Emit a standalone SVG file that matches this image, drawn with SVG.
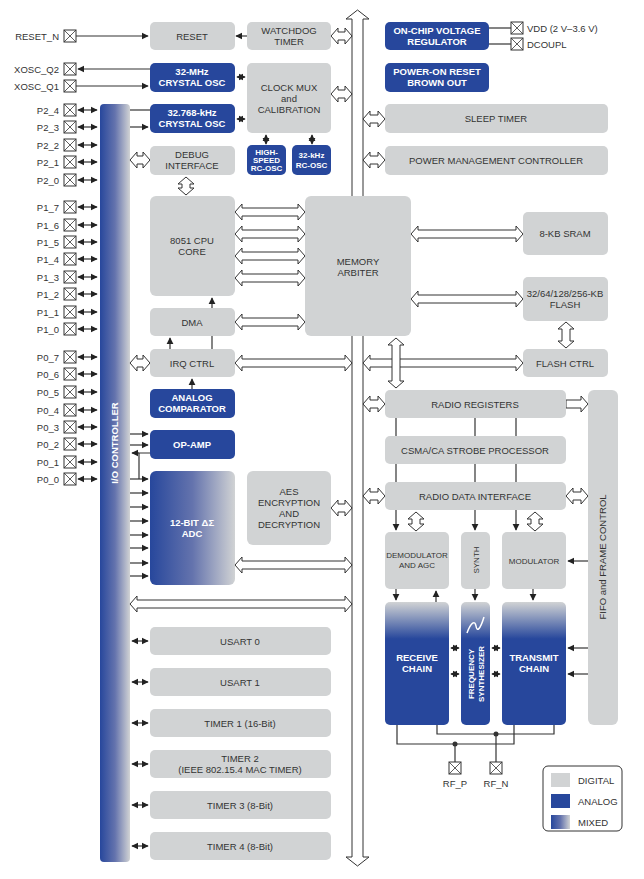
<svg xmlns="http://www.w3.org/2000/svg" width="644" height="879" viewBox="0 0 644 879">
<style>
text{font-family:"Liberation Sans",Arial,sans-serif;font-size:9.5px;fill:#333;text-anchor:middle}
.g{fill:#d1d3d4}
.d{fill:#27479c}
.w{fill:#fff;font-weight:bold}
.s{font-size:8px}
.pin{font-size:9.5px;text-anchor:end}
.h{fill:#fff;stroke:#333;stroke-width:1}
.ln{stroke:#333;stroke-width:1.2;fill:none}
</style>
<defs>
<marker id="a" viewBox="0 0 10 10" refX="9" refY="5" markerWidth="6" markerHeight="6" orient="auto-start-reverse"><path d="M0,0L10,5L0,10z" fill="#222"/></marker>
<linearGradient id="io" x1="0" y1="0" x2="1" y2="0"><stop offset="0" stop-color="#27479c"/><stop offset="0.5" stop-color="#6473ad"/><stop offset="1" stop-color="#d1d3d4"/></linearGradient>
<linearGradient id="top" x1="0" y1="0" x2="0" y2="1"><stop offset="0" stop-color="#d1d3d4"/><stop offset="0.3" stop-color="#27479c"/><stop offset="1" stop-color="#27479c"/></linearGradient>
<g id="x"><rect x="0" y="-6" width="12" height="12" fill="#fff" stroke="#333"/><path d="M0,-6L12,6M12,-6L0,6" stroke="#333" stroke-width="0.8"/></g>
</defs>

<!-- IO controller -->
<g id="io_ctrl"><rect x="100" y="104" width="30" height="758" rx="4" fill="url(#io)"/>
<text transform="translate(118,443) rotate(-90)" class="w" style="fill:#fff">I/O CONTROLLER</text></g>

<!-- bus -->
<g id="bus"><polygon class="h" points="357.5,10 369,19 363,19 363,857 369,857 357.5,866 346,857 352,857 352,19 346,19"/></g>

<!-- connectors -->
<g id="connectors">
<line class="ln" x1="76" y1="36" x2="148" y2="36" marker-end="url(#a)"/>
<line class="ln" x1="247" y1="36" x2="236" y2="36" marker-end="url(#a)"/>
<line class="ln" x1="150" y1="69" x2="78" y2="69" marker-end="url(#a)"/>
<line class="ln" x1="76" y1="86" x2="148" y2="86" marker-end="url(#a)"/>
<line class="ln" x1="130" y1="110" x2="150" y2="110"/>
<line class="ln" x1="130" y1="127" x2="148" y2="127" marker-end="url(#a)"/>
<line class="ln" x1="237" y1="77" x2="245" y2="77" marker-start="url(#a)" marker-end="url(#a)"/>
<line class="ln" x1="237" y1="119" x2="245" y2="119" marker-start="url(#a)" marker-end="url(#a)"/>
<line class="ln" x1="266" y1="135" x2="266" y2="144" marker-start="url(#a)" marker-end="url(#a)"/>
<line class="ln" x1="312" y1="135" x2="312" y2="144" marker-start="url(#a)" marker-end="url(#a)"/>
<g id="pinarrows">
<line class="ln" x1="78" y1="110" x2="97" y2="110" marker-start="url(#a)" marker-end="url(#a)"/>
<line class="ln" x1="78" y1="127" x2="97" y2="127" marker-start="url(#a)" marker-end="url(#a)"/>
<line class="ln" x1="78" y1="145" x2="97" y2="145" marker-start="url(#a)" marker-end="url(#a)"/>
<line class="ln" x1="78" y1="162" x2="97" y2="162" marker-start="url(#a)" marker-end="url(#a)"/>
<line class="ln" x1="78" y1="180" x2="97" y2="180" marker-start="url(#a)" marker-end="url(#a)"/>
<line class="ln" x1="78" y1="207" x2="97" y2="207" marker-start="url(#a)" marker-end="url(#a)"/>
<line class="ln" x1="78" y1="225" x2="97" y2="225" marker-start="url(#a)" marker-end="url(#a)"/>
<line class="ln" x1="78" y1="242" x2="97" y2="242" marker-start="url(#a)" marker-end="url(#a)"/>
<line class="ln" x1="78" y1="259" x2="97" y2="259" marker-start="url(#a)" marker-end="url(#a)"/>
<line class="ln" x1="78" y1="277" x2="97" y2="277" marker-start="url(#a)" marker-end="url(#a)"/>
<line class="ln" x1="78" y1="294" x2="97" y2="294" marker-start="url(#a)" marker-end="url(#a)"/>
<line class="ln" x1="78" y1="312" x2="97" y2="312" marker-start="url(#a)" marker-end="url(#a)"/>
<line class="ln" x1="78" y1="329" x2="97" y2="329" marker-start="url(#a)" marker-end="url(#a)"/>
<line class="ln" x1="78" y1="357" x2="97" y2="357" marker-start="url(#a)" marker-end="url(#a)"/>
<line class="ln" x1="78" y1="374" x2="97" y2="374" marker-start="url(#a)" marker-end="url(#a)"/>
<line class="ln" x1="78" y1="392" x2="97" y2="392" marker-start="url(#a)" marker-end="url(#a)"/>
<line class="ln" x1="78" y1="410" x2="97" y2="410" marker-start="url(#a)" marker-end="url(#a)"/>
<line class="ln" x1="78" y1="427" x2="97" y2="427" marker-start="url(#a)" marker-end="url(#a)"/>
<line class="ln" x1="78" y1="444" x2="97" y2="444" marker-start="url(#a)" marker-end="url(#a)"/>
<line class="ln" x1="78" y1="462" x2="97" y2="462" marker-start="url(#a)" marker-end="url(#a)"/>
<line class="ln" x1="78" y1="479" x2="97" y2="479" marker-start="url(#a)" marker-end="url(#a)"/>
</g>
<polygon class="h" points="331,36 338,28 338,32 345,32 345,28 352,36 345,44 345,40 338,40 338,44"/>
<polygon class="h" points="331,94 338,86 338,90 345,90 345,86 352,94 345,102 345,98 338,98 338,102"/>
<polygon class="h" points="130,160 137,152 137,156 143,156 143,152 150,160 143,168 143,164 137,164 137,168"/>
<polygon class="h" points="186,177 194,184 190,184 190,188 194,188 186,195 178,188 182,188 182,184 178,184"/>
<polygon class="h" points="235,212 242,204 242,208 298,208 298,204 305,212 298,220 298,216 242,216 242,220"/>
<polygon class="h" points="235,234 242,226 242,230 298,230 298,226 305,234 298,242 298,238 242,238 242,242"/>
<polygon class="h" points="235,256 242,248 242,252 298,252 298,248 305,256 298,264 298,260 242,260 242,264"/>
<polygon class="h" points="235,278 242,270 242,274 298,274 298,270 305,278 298,286 298,282 242,282 242,286"/>
<polygon class="h" points="235,322 242,314 242,318 298,318 298,314 305,322 298,330 298,326 242,326 242,330"/>
<polygon class="h" points="235,363 242,355 242,359 345,359 345,355 352,363 345,371 345,367 242,367 242,371"/>
<polygon class="h" points="130,363 137,355 137,359 143,359 143,355 150,363 143,371 143,367 137,367 137,371"/>
<polygon class="h" points="331,508 338,500 338,504 345,504 345,500 352,508 345,516 345,512 338,512 338,516"/>
<polygon class="h" points="235,565 242,557 242,561 345,561 345,557 352,565 345,573 345,569 242,569 242,573"/>
<polygon class="h" points="130,604 137,596 137,600 345,600 345,596 352,604 345,612 345,608 137,608 137,612"/>
<polygon class="h" points="363,119 370,111 370,115 378,115 378,111 385,119 378,127 378,123 370,123 370,127"/>
<polygon class="h" points="363,160 370,152 370,156 378,156 378,152 385,160 378,168 378,164 370,164 370,168"/>
<polygon class="h" points="411,234 418,226 418,230 516,230 516,226 523,234 516,242 516,238 418,238 418,242"/>
<polygon class="h" points="411,299 418,291 418,295 516,295 516,291 523,299 516,307 516,303 418,303 418,307"/>
<polygon class="h" points="566,322 574,329 570,329 570,341 574,341 566,348 558,341 562,341 562,329 558,329"/>
<polygon class="h" points="363,363 370,355 370,359 516,359 516,355 523,363 516,371 516,367 370,367 370,371"/>
<polygon class="h" points="396,338 404,345 400,345 400,381 404,381 396,388 388,381 392,381 392,345 388,345"/>
<polygon class="h" points="363,404 370,396 370,400 378,400 378,396 385,404 378,412 378,408 370,408 370,412"/>
<polygon class="h" points="566,400 581,400 581,396 588,404 581,412 581,408 566,408"/>
<polygon class="h" points="363,496 370,488 370,492 378,492 378,488 385,496 378,504 378,500 370,500 370,504"/>
<polygon class="h" points="566,496 573,488 573,492 581,492 581,488 588,496 581,504 581,500 573,500 573,504"/>
<polygon class="h" points="416,512 424,519 420,519 420,524 424,524 416,531 408,524 412,524 412,519 408,519"/>
<polygon class="h" points="535,512 543,519 539,519 539,524 543,524 535,531 527,524 531,524 531,519 527,519"/>
<line class="ln" x1="212" y1="349" x2="212" y2="298" marker-end="url(#a)"/>
<line class="ln" x1="170" y1="349" x2="170" y2="338" marker-end="url(#a)"/>
<line class="ln" x1="192" y1="389" x2="192" y2="379" marker-end="url(#a)"/>
<line class="ln" x1="130" y1="434" x2="148" y2="434" marker-end="url(#a)"/>
<line class="ln" x1="130" y1="445" x2="148" y2="445" marker-end="url(#a)"/>
<polyline class="ln" points="150,453 139,453 139,479"/>
<line class="ln" x1="139" y1="453" x2="132" y2="453" marker-end="url(#a)"/>
<line class="ln" x1="130" y1="479" x2="148" y2="479" marker-end="url(#a)"/>
<line class="ln" x1="130" y1="493" x2="148" y2="493" marker-end="url(#a)"/>
<line class="ln" x1="130" y1="507" x2="148" y2="507" marker-end="url(#a)"/>
<line class="ln" x1="130" y1="521" x2="148" y2="521" marker-end="url(#a)"/>
<line class="ln" x1="130" y1="535" x2="148" y2="535" marker-end="url(#a)"/>
<line class="ln" x1="130" y1="548" x2="148" y2="548" marker-end="url(#a)"/>
<line class="ln" x1="130" y1="563" x2="148" y2="563" marker-end="url(#a)"/>
<line class="ln" x1="130" y1="576" x2="148" y2="576" marker-end="url(#a)"/>
<line class="ln" x1="132" y1="641" x2="148" y2="641" marker-start="url(#a)" marker-end="url(#a)"/>
<line class="ln" x1="132" y1="682" x2="148" y2="682" marker-start="url(#a)" marker-end="url(#a)"/>
<line class="ln" x1="132" y1="723" x2="148" y2="723" marker-start="url(#a)" marker-end="url(#a)"/>
<line class="ln" x1="132" y1="764" x2="148" y2="764" marker-start="url(#a)" marker-end="url(#a)"/>
<line class="ln" x1="132" y1="805" x2="148" y2="805" marker-start="url(#a)" marker-end="url(#a)"/>
<line class="ln" x1="132" y1="846" x2="148" y2="846" marker-start="url(#a)" marker-end="url(#a)"/>
<line class="ln" x1="489" y1="28" x2="511" y2="28"/>
<line class="ln" x1="489" y1="44" x2="511" y2="44"/>
<line class="ln" x1="396" y1="418" x2="396" y2="436"/>
<line class="ln" x1="475" y1="418" x2="475" y2="436"/>
<line class="ln" x1="516" y1="418" x2="516" y2="436"/>
<line class="ln" x1="396" y1="464" x2="396" y2="482"/>
<line class="ln" x1="475" y1="464" x2="475" y2="482"/>
<line class="ln" x1="516" y1="464" x2="516" y2="482"/>
<line class="ln" x1="396" y1="510" x2="396" y2="530" marker-end="url(#a)"/>
<line class="ln" x1="475" y1="510" x2="475" y2="530" marker-end="url(#a)"/>
<line class="ln" x1="516" y1="510" x2="516" y2="530" marker-end="url(#a)"/>
<line class="ln" x1="396" y1="589" x2="396" y2="600" marker-end="url(#a)"/>
<line class="ln" x1="436" y1="602" x2="436" y2="591" marker-end="url(#a)"/>
<line class="ln" x1="475" y1="589" x2="475" y2="600" marker-end="url(#a)"/>
<line class="ln" x1="533" y1="589" x2="533" y2="600" marker-end="url(#a)"/>
<line class="ln" x1="588" y1="561" x2="568" y2="561" marker-end="url(#a)"/>
<line class="ln" x1="451" y1="648" x2="459" y2="648" marker-start="url(#a)" marker-end="url(#a)"/>
<line class="ln" x1="451" y1="674" x2="459" y2="674" marker-start="url(#a)" marker-end="url(#a)"/>
<line class="ln" x1="492" y1="648" x2="500" y2="648" marker-start="url(#a)" marker-end="url(#a)"/>
<line class="ln" x1="492" y1="674" x2="500" y2="674" marker-start="url(#a)" marker-end="url(#a)"/>
<line class="ln" x1="588" y1="648" x2="568" y2="648" marker-end="url(#a)"/>
<line class="ln" x1="588" y1="674" x2="568" y2="674" marker-end="url(#a)"/>
<polyline class="ln" points="397,725 397,744 514,744 514,725"/>
<polyline class="ln" points="437,725 437,734 554,734 554,725"/>
<line class="ln" x1="455" y1="744" x2="455" y2="762"/>
<line class="ln" x1="496" y1="734" x2="496" y2="762"/>
<circle cx="455" cy="744" r="2.5" fill="#333"/>
<circle cx="496" cy="734" r="2.5" fill="#333"/>
</g>

<!-- pins -->
<g id="pins">
<use href="#x" x="64" y="36"/><text class="pin" x="59" y="40">RESET_N</text>
<use href="#x" x="64" y="69"/><text class="pin" x="59" y="73">XOSC_Q2</text>
<use href="#x" x="64" y="86"/><text class="pin" x="59" y="90">XOSC_Q1</text>
<use href="#x" x="64" y="110"/><text class="pin" x="59" y="114">P2_4</text>
<use href="#x" x="64" y="127"/><text class="pin" x="59" y="131">P2_3</text>
<use href="#x" x="64" y="145"/><text class="pin" x="59" y="149">P2_2</text>
<use href="#x" x="64" y="162"/><text class="pin" x="59" y="166">P2_1</text>
<use href="#x" x="64" y="180"/><text class="pin" x="59" y="184">P2_0</text>
<use href="#x" x="64" y="207"/><text class="pin" x="59" y="211">P1_7</text>
<use href="#x" x="64" y="225"/><text class="pin" x="59" y="229">P1_6</text>
<use href="#x" x="64" y="242"/><text class="pin" x="59" y="246">P1_5</text>
<use href="#x" x="64" y="259"/><text class="pin" x="59" y="263">P1_4</text>
<use href="#x" x="64" y="277"/><text class="pin" x="59" y="281">P1_3</text>
<use href="#x" x="64" y="294"/><text class="pin" x="59" y="298">P1_2</text>
<use href="#x" x="64" y="312"/><text class="pin" x="59" y="316">P1_1</text>
<use href="#x" x="64" y="329"/><text class="pin" x="59" y="333">P1_0</text>
<use href="#x" x="64" y="357"/><text class="pin" x="59" y="361">P0_7</text>
<use href="#x" x="64" y="374"/><text class="pin" x="59" y="378">P0_6</text>
<use href="#x" x="64" y="392"/><text class="pin" x="59" y="396">P0_5</text>
<use href="#x" x="64" y="410"/><text class="pin" x="59" y="414">P0_4</text>
<use href="#x" x="64" y="427"/><text class="pin" x="59" y="431">P0_3</text>
<use href="#x" x="64" y="444"/><text class="pin" x="59" y="448">P0_2</text>
<use href="#x" x="64" y="462"/><text class="pin" x="59" y="466">P0_1</text>
<use href="#x" x="64" y="479"/><text class="pin" x="59" y="483">P0_0</text>
<use href="#x" x="511" y="28"/><text x="527" y="32" style="text-anchor:start">VDD (2 V–3.6 V)</text>
<use href="#x" x="511" y="44"/><text x="527" y="48" style="text-anchor:start">DCOUPL</text>
<use href="#x" x="449" y="768"/><text x="455" y="787">RF_P</text>
<use href="#x" x="490" y="768"/><text x="496" y="787">RF_N</text>
</g>

<!-- nodes -->
<g id="reset"><rect class="g" x="150" y="22" width="85" height="28" rx="5"/><text x="192" y="40">RESET</text></g>
<g id="watchdog"><rect class="g" x="247" y="22" width="84" height="28" rx="5"/><text x="289" y="34">WATCHDOG</text><text x="289" y="45">TIMER</text></g>
<g id="xosc32m"><rect class="d" x="150" y="63" width="85" height="29" rx="5"/><text class="w" x="192" y="75">32-MHz</text><text class="w" x="192" y="86">CRYSTAL OSC</text></g>
<g id="clockmux"><rect class="g" x="247" y="63" width="84" height="70" rx="5"/><text x="289" y="91">CLOCK MUX</text><text x="289" y="102">and</text><text x="289" y="113">CALIBRATION</text></g>
<g id="xosc32k"><rect class="d" x="150" y="104" width="85" height="29" rx="5"/><text class="w" x="192" y="116">32.768-kHz</text><text class="w" x="192" y="127">CRYSTAL OSC</text></g>
<g id="debug"><rect class="g" x="150" y="146" width="85" height="29" rx="5"/><text x="192" y="158">DEBUG</text><text x="192" y="169">INTERFACE</text></g>
<g id="hsrc"><rect class="d" x="247" y="145" width="39" height="30" rx="5"/><text class="w s" x="266.5" y="155">HIGH-</text><text class="w s" x="266.5" y="163">SPEED</text><text class="w s" x="266.5" y="171">RC-OSC</text></g>
<g id="rc32k"><rect class="d" x="292" y="145" width="39" height="30" rx="5"/><text class="w s" x="311.5" y="158">32-kHz</text><text class="w s" x="311.5" y="168">RC-OSC</text></g>
<g id="cpu"><rect class="g" x="150" y="196" width="85" height="100" rx="6"/><text x="192" y="244">8051 CPU</text><text x="192" y="255">CORE</text></g>
<g id="dma"><rect class="g" x="150" y="308" width="85" height="28" rx="5"/><text x="192" y="326">DMA</text></g>
<g id="irq"><rect class="g" x="150" y="349" width="85" height="28" rx="5"/><text x="192" y="367">IRQ CTRL</text></g>
<g id="arbiter"><rect class="g" x="305" y="196" width="106" height="140" rx="6"/><text x="358" y="265">MEMORY</text><text x="358" y="276">ARBITER</text></g>
<g id="comparator"><rect class="d" x="150" y="389" width="85" height="29" rx="5"/><text class="w" x="192" y="401">ANALOG</text><text class="w" x="192" y="412">COMPARATOR</text></g>
<g id="opamp"><rect class="d" x="150" y="430" width="85" height="29" rx="5"/><text class="w" x="192" y="448">OP-AMP</text></g>
<g id="adc"><rect x="150" y="471" width="85" height="114" rx="6" fill="url(#io)"/><text class="w" x="192" y="526">12-BIT ΔΣ</text><text class="w" x="192" y="537">ADC</text></g>
<g id="aes"><rect class="g" x="247" y="471" width="84" height="74" rx="6"/><text x="289" y="495">AES</text><text x="289" y="506">ENCRYPTION</text><text x="289" y="517">AND</text><text x="289" y="528">DECRYPTION</text></g>
<g id="usart0"><rect class="g" x="150" y="627" width="181" height="28" rx="5"/><text x="240" y="645">USART 0</text></g>
<g id="usart1"><rect class="g" x="150" y="668" width="181" height="28" rx="5"/><text x="240" y="686">USART 1</text></g>
<g id="timer1"><rect class="g" x="150" y="709" width="181" height="28" rx="5"/><text x="240" y="727">TIMER 1 (16-Bit)</text></g>
<g id="timer2"><rect class="g" x="150" y="750" width="181" height="28" rx="5"/><text x="240" y="762">TIMER 2</text><text x="240" y="773">(IEEE 802.15.4 MAC TIMER)</text></g>
<g id="timer3"><rect class="g" x="150" y="791" width="181" height="28" rx="5"/><text x="240" y="809">TIMER 3 (8-Bit)</text></g>
<g id="timer4"><rect class="g" x="150" y="832" width="181" height="28" rx="5"/><text x="240" y="850">TIMER 4 (8-Bit)</text></g>
<g id="regulator"><rect class="d" x="385" y="22" width="104" height="28" rx="5"/><text class="w" x="437" y="34">ON-CHIP VOLTAGE</text><text class="w" x="437" y="45">REGULATOR</text></g>
<g id="por"><rect class="d" x="385" y="63" width="104" height="29" rx="5"/><text class="w" x="437" y="75">POWER-ON RESET</text><text class="w" x="437" y="86">BROWN OUT</text></g>
<g id="sleep"><rect class="g" x="385" y="104" width="223" height="29" rx="5"/><text x="496" y="122">SLEEP TIMER</text></g>
<g id="pmc"><rect class="g" x="385" y="146" width="223" height="29" rx="5"/><text x="496" y="164">POWER MANAGEMENT CONTROLLER</text></g>
<g id="sram"><rect class="g" x="523" y="212" width="85" height="43" rx="5"/><text x="565" y="237">8-KB SRAM</text></g>
<g id="flash"><rect class="g" x="523" y="277" width="85" height="44" rx="5"/><text x="565" y="297">32/64/128/256-KB</text><text x="565" y="308">FLASH</text></g>
<g id="flashctrl"><rect class="g" x="523" y="349" width="85" height="28" rx="5"/><text x="565" y="367">FLASH CTRL</text></g>
<g id="radioregs"><rect class="g" x="385" y="390" width="181" height="28" rx="5"/><text x="475" y="408">RADIO REGISTERS</text></g>
<g id="csma"><rect class="g" x="385" y="436" width="181" height="28" rx="5"/><text x="475" y="454">CSMA/CA STROBE PROCESSOR</text></g>
<g id="rdi"><rect class="g" x="385" y="482" width="181" height="28" rx="5"/><text x="475" y="500">RADIO DATA INTERFACE</text></g>
<g id="demod"><rect class="g" x="385" y="532" width="64" height="57" rx="5"/><text class="s" x="417" y="558">DEMODULATOR</text><text class="s" x="417" y="568">AND AGC</text></g>
<g id="synth"><rect class="g" x="461" y="532" width="29" height="57" rx="5"/><text transform="translate(479,560) rotate(-90)" class="s">SYNTH</text></g>
<g id="modulator"><rect class="g" x="502" y="532" width="64" height="57" rx="5"/><text class="s" x="534" y="564">MODULATOR</text></g>
<g id="receive"><rect x="385" y="602" width="64" height="123" rx="5" fill="url(#top)"/><text class="w" x="417" y="661">RECEIVE</text><text class="w" x="417" y="672">CHAIN</text></g>
<g id="freqsynth"><rect x="461" y="602" width="29" height="123" rx="5" fill="url(#top)"/><path d="M467,633 C471,622 475,620 476,626 C477,632 480,630 484,617" stroke="#fff" stroke-width="1.5" fill="none"/><text class="w s" transform="translate(474,674) rotate(-90)">FREQUENCY</text><text class="w s" transform="translate(484,674) rotate(-90)">SYNTHESIZER</text></g>
<g id="transmit"><rect x="502" y="602" width="64" height="123" rx="5" fill="url(#top)"/><text class="w" x="534" y="661">TRANSMIT</text><text class="w" x="534" y="672">CHAIN</text></g>
<g id="fifo"><rect class="g" x="588" y="390" width="30" height="335" rx="6"/><text transform="translate(606,557) rotate(-90)">FIFO and FRAME CONTROL</text></g>

<g id="legend"><rect x="543" y="766" width="79" height="65" rx="5" fill="#fff" stroke="#333"/>
<rect class="g" x="551" y="773" width="19" height="14"/><text x="578" y="784" style="text-anchor:start">DIGITAL</text>
<rect class="d" x="551" y="794" width="19" height="14"/><text x="578" y="805" style="text-anchor:start">ANALOG</text>
<rect x="551" y="815" width="19" height="14" fill="url(#io)"/><text x="578" y="826" style="text-anchor:start">MIXED</text></g>
</svg>
